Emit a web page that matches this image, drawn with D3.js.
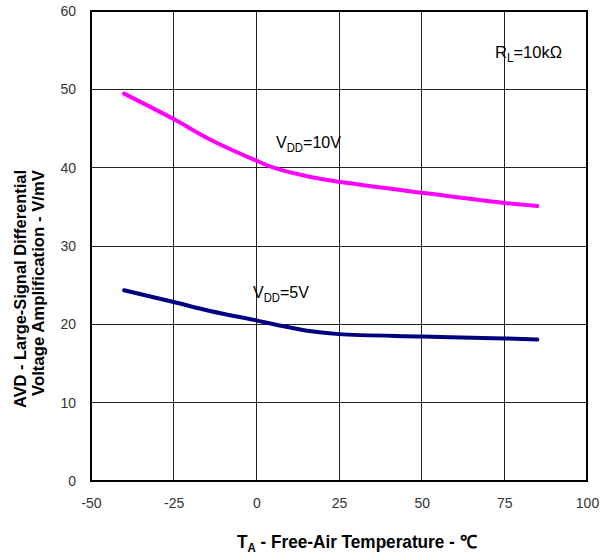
<!DOCTYPE html>
<html><head><meta charset="utf-8">
<script src="https://cdn.jsdelivr.net/npm/d3@7"></script>
<style>body{margin:0;background:#fff;}svg{display:block;}</style>
</head><body>
<svg id="c" width="610" height="556"></svg>
<script>
const temps = [-40, -25, -14, 0, 6, 16, 25, 50, 75, 85];
const vdd10 = [49.45, 46.2, 43.6, 40.9, 39.9, 38.85, 38.2, 36.8, 35.5, 35.1];
const vdd5  = [24.35, 22.85, 21.7, 20.5, 19.95, 19.15, 18.75, 18.45, 18.2, 18.05];
const xTicks = [-50, -25, 0, 25, 50, 75, 100];
const yTicks = [0, 10, 20, 30, 40, 50, 60];
const seriesNames = ["VDD=10V", "VDD=5V"];
const seriesColors = ["#ff00ff", "#000080"];

const svg = d3.select("#c");
const L = 91, R = 587, T = 11, B = 481;
const x = d3.scaleLinear().domain([-50, 100]).range([L, R]);
const y = d3.scaleLinear().domain([0, 60]).range([B, T]);
const font = "Arial, 'Liberation Sans', sans-serif";
const fmt = d => String(d);

// grid
svg.append("g").selectAll("line").data(xTicks.slice(1, -1)).join("line")
  .attr("x1", d => x(d)).attr("x2", d => x(d)).attr("y1", T).attr("y2", B)
  .attr("stroke", "#222").attr("stroke-width", 1).attr("shape-rendering", "crispEdges");
svg.append("g").selectAll("line").data(yTicks.slice(1, -1)).join("line")
  .attr("y1", d => y(d)).attr("y2", d => y(d)).attr("x1", L).attr("x2", R)
  .attr("stroke", "#222").attr("stroke-width", 1).attr("shape-rendering", "crispEdges");

// axes via d3 axis (labels only)
const xAxis = svg.append("g").attr("transform", `translate(0,${B})`)
  .call(d3.axisBottom(x).tickValues(xTicks).tickSize(0).tickPadding(17).tickFormat(fmt));
const yAxis = svg.append("g").attr("transform", `translate(${L},0)`)
  .call(d3.axisLeft(y).tickValues(yTicks).tickSize(0).tickPadding(15).tickFormat(fmt));
[xAxis, yAxis].forEach(a => {
  a.select(".domain").remove();
  a.selectAll("text").attr("font-family", font).attr("font-size", 14).attr("fill", "#333");
});

// border
svg.append("rect").attr("x", L).attr("y", T).attr("width", R - L).attr("height", B - T)
  .attr("fill", "none").attr("stroke", "#000").attr("stroke-width", 2);

// lines
const line = d3.line().x((d, i) => x(temps[i])).y(d => y(d)).curve(d3.curveCatmullRom.alpha(0.5));
[vdd10, vdd5].forEach((s, k) => {
  svg.append("path").datum(s).attr("d", line).attr("fill", "none")
    .attr("stroke", seriesColors[k]).attr("stroke-width", 4).attr("stroke-linecap", "round");
});

// annotations
function sub(xp, yp, main, subs, rest, len) {
  const t = svg.append("text").attr("x", xp).attr("y", yp)
    .attr("font-family", font).attr("font-size", 17).attr("fill", "#000");
  t.append("tspan").text(main);
  t.append("tspan").attr("dy", 4).attr("font-size", 12).text(subs);
  t.append("tspan").attr("dy", -4).text(rest);
  const w = t.node().getComputedTextLength();
  t.attr("transform", `translate(${xp},0) scale(${len / w},1) translate(${-xp},0)`);
}
sub(495, 58, "R", "L", "=10kΩ", 67);
sub(276, 148, "V", "DD", "=10V", 65);
sub(253, 298, "V", "DD", "=5V", 56);

// x title
const xt = svg.append("text").attr("x", 237).attr("y", 548)
  .attr("font-family", font).attr("font-size", 18).attr("font-weight", "bold").attr("fill", "#000");
xt.append("tspan").text("T");
xt.append("tspan").attr("dy", 4).attr("font-size", 12).text("A");
xt.append("tspan").attr("dy", -4).text(" - Free-Air Temperature - ℃");
{
  const w = xt.node().getComputedTextLength();
  xt.attr("transform", `translate(237,0) scale(${240 / w},1) translate(-237,0)`);
}

// y title
const yt = svg.append("text").attr("transform", "translate(26,289) rotate(-90)")
  .attr("text-anchor", "middle").attr("font-family", font).attr("font-size", 17)
  .attr("font-weight", "bold").attr("fill", "#000");
yt.append("tspan").attr("x", 0).attr("dy", 0).attr("textLength", 238)
  .attr("lengthAdjust", "spacingAndGlyphs").text("AVD - Large-Signal Differential");
yt.append("tspan").attr("x", 6).attr("dy", 18).attr("textLength", 226)
  .attr("lengthAdjust", "spacingAndGlyphs").text("Voltage Amplification - V/mV");
</script>
</body></html>
